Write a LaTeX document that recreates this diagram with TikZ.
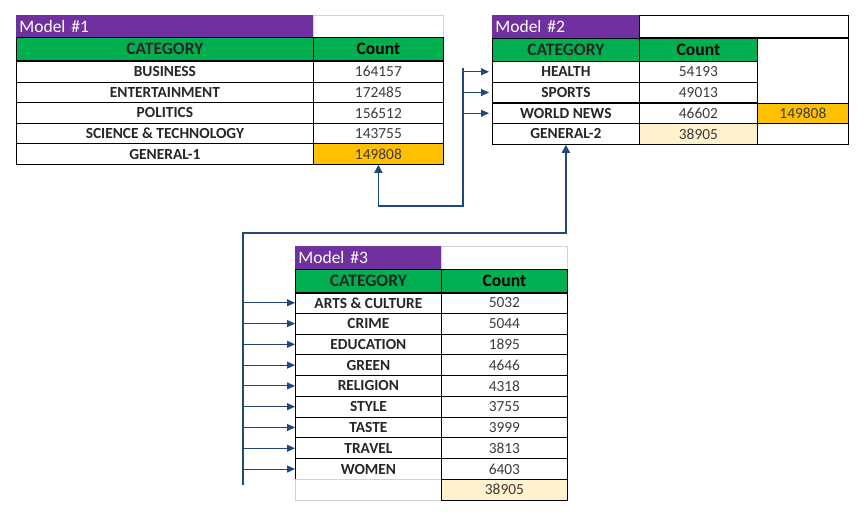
\documentclass[tikz,border=0pt]{standalone}
\usepackage{fontspec}
\setmainfont{Carlito}
\usetikzlibrary{arrows.meta}

\definecolor{modelpurple}{RGB}{112,48,160}
\definecolor{headgreen}{RGB}{0,176,80}
\definecolor{sumorange}{RGB}{255,192,0}
\definecolor{sumyellow}{RGB}{255,242,204}
\definecolor{linkblue}{RGB}{31,73,125}
\definecolor{gridgray}{RGB}{210,210,210}
\definecolor{textgray}{RGB}{38,38,38}

\newcommand{\cellfont}{\fontsize{15.4}{17}\selectfont}
\newcommand{\headfont}{\fontsize{17.5}{19}\selectfont}

\begin{document}
\begin{tikzpicture}[x=1pt, y=-1pt,
    cell/.style={draw, line width=0.8pt, inner sep=0pt, anchor=north west, minimum height=20.7pt},
    catcell/.style={cell, font=\cellfont\bfseries, text=textgray},
    numcell/.style={cell, font=\cellfont, text=textgray!90},
    headcell/.style={cell, fill=headgreen, minimum height=23.5pt, font=\headfont\bfseries},
    titlecell/.style={cell, draw=none, fill=modelpurple, minimum height=22.5pt, text=white,
      font=\headfont, align=left, text width=#1-6pt, minimum width=#1, inner xsep=3pt},
    blankcell/.style={cell, draw=gridgray, fill=white, minimum height=22.5pt},
    link/.style={draw=linkblue, line width=1.8pt, -{Triangle[length=8pt,width=8pt]}},
    feed/.style={draw=linkblue, line width=1pt, -{Triangle[length=8pt,width=7pt]}}]

  \useasboundingbox (0,0) rectangle (864,519);

  % Model #1
  \node[blankcell, minimum width=130pt] (t1b) at (313,15) {};
  \node[titlecell=297pt] (t1) at (16,15) {Model \#1};
  \node[headcell, minimum width=297pt, text=textgray] (h1c) at (16,37) {CATEGORY};
  \node[headcell, minimum width=130pt] (h1n) at (313,37) {Count};
  \foreach \cat/\num/\col [count=\i] in {BUSINESS/164157/white, ENTERTAINMENT/172485/white,
      POLITICS/156512/white, {SCIENCE \& TECHNOLOGY}/143755/white, GENERAL-1/149808/sumorange}
  {
    \node[catcell, minimum width=297pt, minimum height=20.6pt] (m1c\i) at (16,{61+20.6*(\i-1)}) {\cat};
    \node[numcell, minimum width=130pt, minimum height=20.6pt, fill=\col] (m1n\i) at (313,{61+20.6*(\i-1)}) {\num};
  }

  % Model #2
  \node[titlecell=147pt] (t2) at (492,15) {Model \#2};
  \node[blankcell, draw=black, minimum width=209pt] (t2b) at (639,15) {};
  \node[headcell, minimum width=147pt, text=textgray] (h2c) at (492,38) {CATEGORY};
  \node[headcell, minimum width=118pt] (h2n) at (639,38) {Count};
  \node[cell, minimum width=91pt, minimum height=65pt] (s2a) at (757,38) {};
  \foreach \cat/\num/\col [count=\i] in {HEALTH/54193/white, SPORTS/49013/white,
      WORLD NEWS/46602/white, GENERAL-2/38905/sumyellow}
  {
    \node[catcell, minimum width=147pt] (m2c\i) at (492,{61+20.75*(\i-1)}) {\cat};
    \node[numcell, minimum width=118pt, fill=\col] (m2n\i) at (639,{61+20.75*(\i-1)}) {\num};
  }
  \node[numcell, minimum width=91pt, fill=sumorange] (s2b) at (757,102.5) {149808};
  \node[cell, minimum width=91pt] (s2c) at (757,123.25) {};

  % Model #3
  \node[blankcell, minimum width=126pt] (t3b) at (441,246) {};
  \node[titlecell=146pt] (t3) at (295,246) {Model \#3};
  \node[headcell, minimum width=146pt, text=textgray] (h3c) at (295,269) {CATEGORY};
  \node[headcell, minimum width=126pt] (h3n) at (441,269) {Count};
  \foreach \cat/\num [count=\i] in {{ARTS \& CULTURE}/5032, CRIME/5044, EDUCATION/1895,
      GREEN/4646, RELIGION/4318, STYLE/3755, TASTE/3999, TRAVEL/3813, WOMEN/6403}
  {
    \node[catcell, minimum width=146pt, minimum height=20.78pt] (m3c\i) at (295,{292+20.78*(\i-1)}) {\cat};
    \node[numcell, minimum width=126pt, minimum height=20.78pt] (m3n\i) at (441,{292+20.78*(\i-1)}) {\num};
  }
  \node[cell, draw=gridgray, minimum width=146pt] (s3a) at (295,479) {};
  \node[numcell, minimum width=126pt, fill=sumyellow] (s3b) at (441,479) {38905};

  % links
  \coordinate (j1top) at (463,68);
  \coordinate (j1bot) at (463,206);
  \draw[link] (j1top) -- (j1bot) -| (m1n5.south);
  \foreach \i in {1,2,3}
    \draw[feed, shorten >=3pt] (j1top |- m2c\i.west) -- (m2c\i.west);

  \coordinate (j2top) at (243,233);
  \coordinate (j2bot) at (243,485);
  \draw[link] (j2bot) -- (j2top) -| (m2c4.south);
  \foreach \i in {1,...,9}
    \draw[feed] (j2top |- m3c\i.west) -- (m3c\i.west);
\end{tikzpicture}
\end{document}
